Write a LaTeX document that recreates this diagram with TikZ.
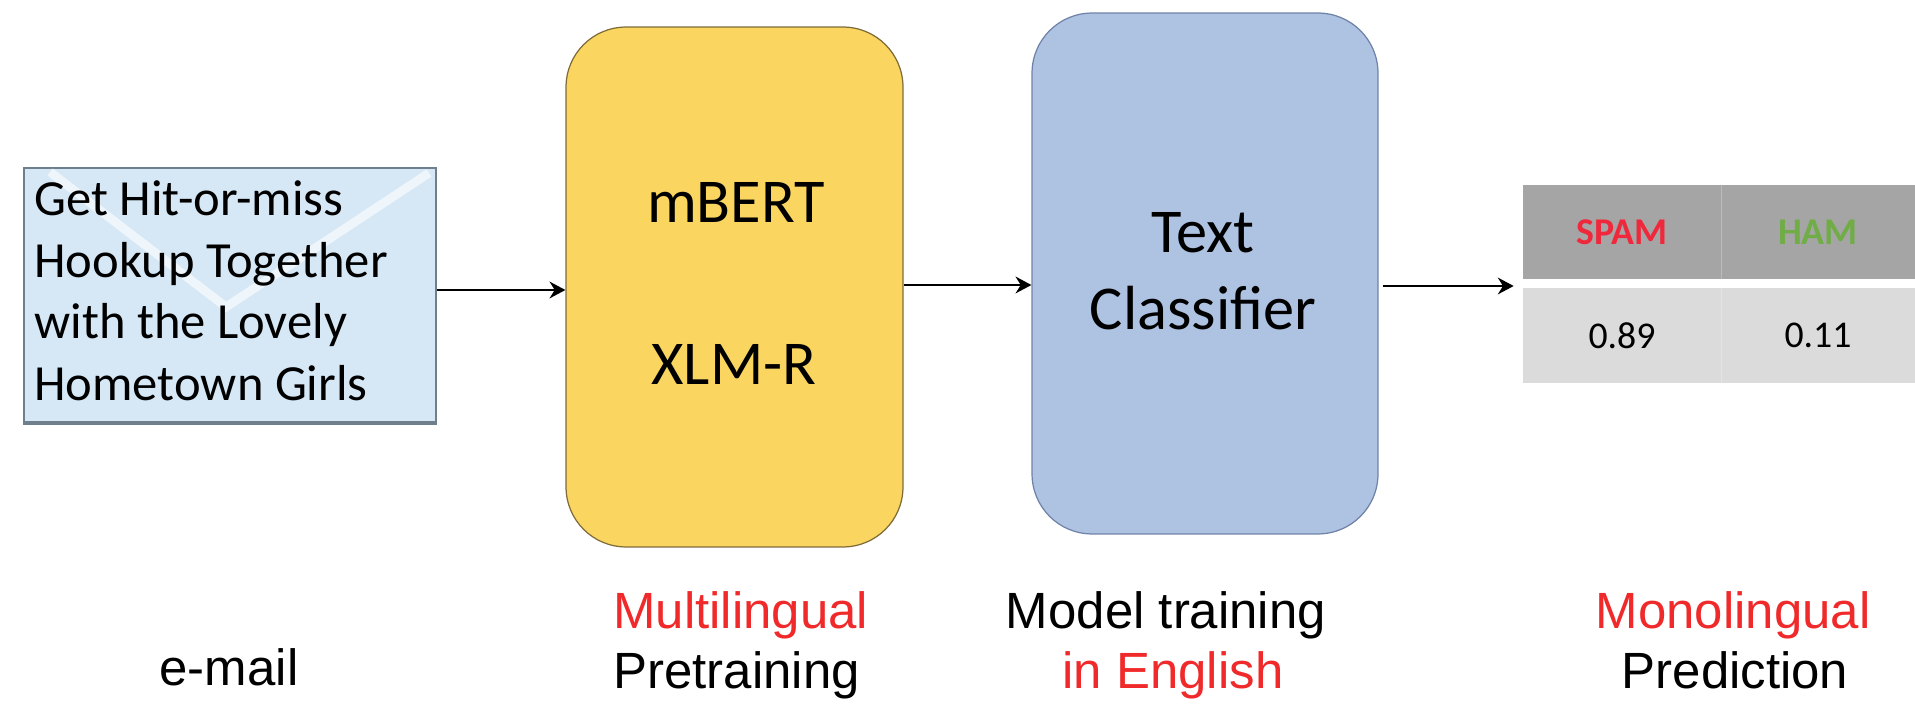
\documentclass[tikz,border=0pt]{standalone}
\usepackage{fontspec}
\usepackage{tikz}
\usetikzlibrary{arrows.meta}
\setmainfont{Liberation Sans}
\newfontfamily\bodyfont{Carlito}
\definecolor{mailfill}{HTML}{D6E8F5}
\definecolor{mailline}{HTML}{6F7F8C}
\definecolor{pretrainfill}{HTML}{FAD55F}
\definecolor{pretrainline}{HTML}{7F6A3A}
\definecolor{classifierfill}{HTML}{AEC2E2}
\definecolor{classifierline}{HTML}{6F82A8}
\definecolor{headfill}{HTML}{A5A5A5}
\definecolor{cellfill}{HTML}{DBDBDB}
\definecolor{spamred}{HTML}{F0283C}
\definecolor{hamgreen}{HTML}{70AD47}
\definecolor{capred}{HTML}{F02A2A}
\tikzset{
	x=0.02cm, y=-0.02cm,
	flow/.style={-{Stealth[length=9pt,width=9.5pt]}, line width=1.4pt, black},
	stagebox/.style={rounded corners=1.2cm, line width=0.7pt, inner sep=0pt},
	boxtext/.style={anchor=base, inner sep=0pt, font=\bodyfont\fontsize{35.5}{43}\selectfont},
	captext/.style={anchor=base, inner sep=0pt, font=\fontsize{29}{35}\selectfont},
	headcell/.style={fill=headfill, inner sep=0pt, minimum height=1.88cm, font=\bodyfont\bfseries\fontsize{21.5}{26}\selectfont},
	valcell/.style={fill=cellfill, inner sep=0pt, minimum height=1.9cm, font=\bodyfont\fontsize{21.5}{26}\selectfont},
}

\begin{document}
\begin{tikzpicture}
	\useasboundingbox (0,0) rectangle (1915,705);
	\node[draw=mailline, fill=mailfill, line width=1pt, inner sep=0pt, minimum width=8.24cm, minimum height=5.08cm] (mail) at (230,295) {}; % envelope
	\draw[mailline, line width=2pt] (mail.south west) -- (mail.south east); % envelope
	\coordinate (flapleft) at (50,172); % envelope
	\coordinate (flapbottom) at (226,307); % envelope
	\coordinate (flapright) at (429,173); % envelope
	\draw[white, opacity=0.6, line width=5pt] (flapleft) -- (flapbottom) -- (flapright); % envelope
	\node[anchor=west, inner sep=0pt, align=left, font=\bodyfont\fontsize{28.8}{35}\selectfont] (mailtext) at (34,291) {Get Hit-or-miss\\Hookup Together\\with the Lovely\\Hometown Girls}; % envelope

	\node[stagebox, draw=pretrainline, fill=pretrainfill, minimum width=6.74cm, minimum height=10.4cm] (pretrain) at (734.5,287) {}; % mBERT
	\node[boxtext] (mbert) at (736,223) {mBERT}; % mBERT
	\node[boxtext] (xlmr) at (734,385) {XLM-R}; % mBERT

	\node[stagebox, draw=classifierline, fill=classifierfill, minimum width=6.92cm, minimum height=10.42cm] (classifier) at (1205,273.5) {}; % classifier
	\node[boxtext] (classtop) at (1203,253) {Text}; % classifier
	\node[boxtext] (classbottom) at (1203,330) {Classifier}; % classifier

	\node[headcell, minimum width=3.96cm, text=spamred] (spamhead) at (1622,232) {SPAM}; % table
	\node[headcell, minimum width=3.88cm, text=hamgreen] (hamhead) at (1818,232) {HAM}; % table
	\node[valcell, minimum width=3.96cm] (spamval) at (1622,335.5) {0.89}; % table
	\node[valcell, minimum width=3.88cm] (hamval) at (1818,335.5) {0.11}; % table
	\draw[white!25!headfill, line width=0.4pt] (spamhead.north east) -- (spamhead.south east); % table
	\draw[white!25!cellfill, line width=0.4pt] (spamval.north east) -- (spamval.south east); % table

	\coordinate (mailout) at ([yshift=0.1cm]mail.east); % mail to mBERT
	\draw[flow] (mailout) -- (mailout -| pretrain.west); % mail to mBERT
	\coordinate (pretrainout) at ([yshift=0.04cm]pretrain.east); % mBERT to classifier
	\draw[flow] (pretrainout) -- (pretrainout -| classifier.west); % mBERT to classifier
	\coordinate (classout) at ([shift={(0.08cm,-0.25cm)}]classifier.east); % classifier to table
	\coordinate (tablein) at ([xshift=-0.18cm]spamhead.west); % classifier to table
	\draw[flow] (classout) -- (classout -| tablein); % classifier to table

	\node[captext] (mailcap) at (229,685) {e-mail}; % captions
	\node[captext, text=capred, anchor=base west] (pretraincap) at (613,628) {Multilingual}; % captions
	\node[captext, anchor=base west] (pretraincapb) at (613,688) {Pretraining}; % captions
	\node[captext] (classcap) at (1166,628) {Model training}; % captions
	\node[captext, text=capred] (classcapb) at (1173,688) {in English}; % captions
	\node[captext, text=capred] (predictcap) at (1733,628) {Monolingual}; % captions
	\node[captext] (predictcapb) at (1735,688) {Prediction}; % captions
\end{tikzpicture}
\end{document}
